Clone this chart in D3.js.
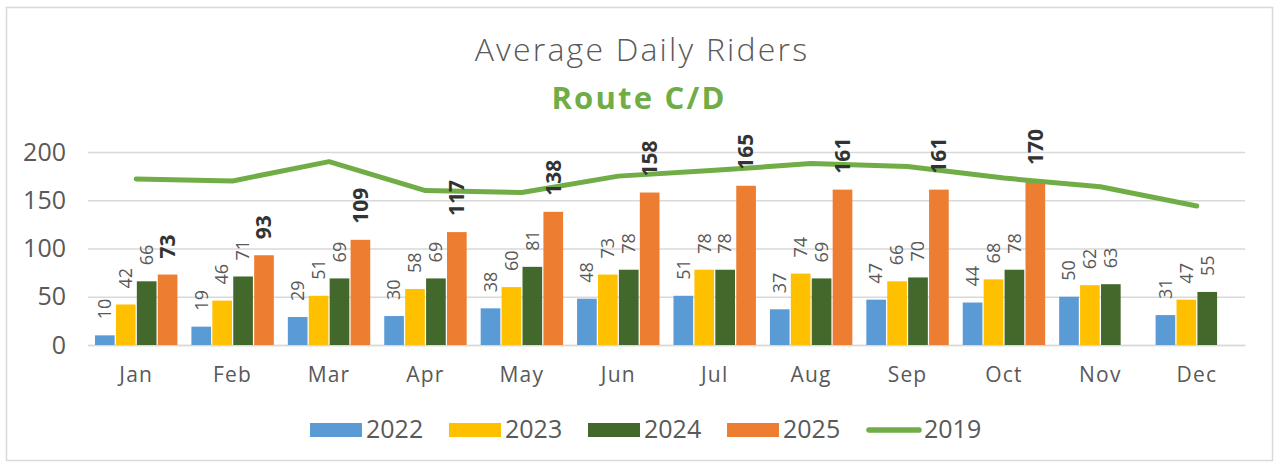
<!DOCTYPE html>
<html>
<head>
<meta charset="utf-8">
<script src="https://cdn.jsdelivr.net/npm/d3@7"></script>
<style>
  body { margin: 0; background: #fff; }
  text { font-family: "Open Sans", Lato, sans-serif; }
</style>
</head>
<body>
<div id="chart"></div>
<script>
// --------------------------------------
//  Data
// --------------------------------------

const months = ["Jan", "Feb", "Mar", "Apr", "May", "Jun", "Jul", "Aug", "Sep", "Oct", "Nov", "Dec"];
const barYears = ["2022", "2023", "2024", "2025"];
const riders2022 = [10, 19, 29, 30, 38, 48, 51, 37, 47, 44, 50, 31];
const riders2023 = [42, 46, 51, 58, 60, 73, 78, 74, 66, 68, 62, 47];
const riders2024 = [66, 71, 69, 69, 81, 78, 78, 69, 70, 78, 63, 55];
const riders2025 = [73, 93, 109, 117, 138, 158, 165, 161, 161, 170, null, null];
const riders2019 = [172, 170, 190, 160, 158, 175, 181, 188, 185, 173, 164, 144];
const yTicks = [0, 50, 100, 150, 200];
const legendKeys = ["2022", "2023", "2024", "2025", "2019"];

// --------------------------------------
//  Margin and canvas
// --------------------------------------

const width = 1276;
const height = 464;
const margin = {top: 152, right: 31, bottom: 119, left: 88};
const innerwidth = width - margin.left - margin.right;
const innerheight = height - margin.top - margin.bottom;

const svg = d3.select("#chart")
  .append("svg")
    .attr("width", width)
    .attr("height", height);

svg.append("rect")
    .attr("x", 6.5).attr("y", 7.5)
    .attr("width", 1266).attr("height", 453)
    .attr("fill", "#fff")
    .attr("stroke", "#D9D9D9")
    .attr("stroke-width", 1.5);

// titles
svg.append("text")
    .attr("x", 642).attr("y", 61)
    .attr("text-anchor", "middle")
    .attr("font-size", 32)
    .attr("font-weight", 300)
    .attr("letter-spacing", 2.2)
    .attr("fill", "#595959")
    .text("Average Daily Riders");

svg.append("text")
    .attr("x", 639).attr("y", 109)
    .attr("text-anchor", "middle")
    .attr("font-size", 31)
    .attr("font-weight", "bold")
    .attr("letter-spacing", 2.2)
    .attr("fill", "#70AD47")
    .text("Route C/D");

const innerChart = svg.append("g")
    .attr("transform", `translate(${margin.left}, ${margin.top})`);

// --------------------------------------
//  Scales
// --------------------------------------

const x = d3.scaleBand()
    .domain(months)
    .range([0, innerwidth]);

const xSub = d3.scaleBand()
    .domain(barYears)
    .range([7, x.bandwidth() - 7])
    .paddingInner(0.06);

const y = d3.scaleLinear()
    .domain([0, 200])
    .range([innerheight, 0]);

const c = d3.scaleOrdinal()
    .domain(barYears.concat(["2019"]))
    .range(["#5B9BD5", "#FFC000", "#43682B", "#ED7D31", "#70AD47"]);

// --------------------------------------
//  Axes
// --------------------------------------

const yAxis = innerChart.append("g")
    .attr("class", "y-axis")
    .call(d3.axisLeft(y)
        .tickValues(yTicks)
        .tickSize(-innerwidth)
        .tickPadding(22));

yAxis.select(".domain").remove();
yAxis.selectAll("line").attr("stroke", "#D9D9D9").attr("stroke-width", 1.5);
yAxis.selectAll("text")
    .attr("font-size", 25)
    .attr("fill", "#595959")
    .attr("font-family", "'Open Sans', sans-serif");

const xAxis = innerChart.append("g")
    .attr("class", "x-axis")
    .attr("transform", `translate(0, ${innerheight})`)
    .call(d3.axisBottom(x).tickSize(0).tickPadding(22));

xAxis.select(".domain").attr("stroke", "#D9D9D9").attr("stroke-width", 1.5);
xAxis.selectAll("text")
    .attr("font-size", 21)
    .attr("letter-spacing", 1.2)
    .attr("fill", "#595959")
    .attr("font-family", "'Open Sans', sans-serif");

// --------------------------------------
//  Data drawing
// --------------------------------------

const series = [riders2022, riders2023, riders2024, riders2025];
const bars = [];
months.forEach((m, i) => {
  barYears.forEach((yr, j) => {
    if (series[j][i] != null) bars.push({month: m, year: yr, value: series[j][i]});
  });
});

innerChart.selectAll(".bar")
    .data(bars)
    .join("rect")
    .attr("class", "bar")
    .attr("x", d => x(d.month) + xSub(d.year))
    .attr("y", d => y(d.value))
    .attr("width", xSub.bandwidth())
    .attr("height", d => innerheight - y(d.value))
    .attr("fill", d => c(d.year));

const line = d3.line()
    .x((d, i) => x(months[i]) + x.bandwidth() / 2)
    .y(d => y(d));

innerChart.append("path")
    .datum(riders2019)
    .attr("fill", "none")
    .attr("stroke", c("2019"))
    .attr("stroke-width", 5)
    .attr("stroke-linecap", "round")
    .attr("stroke-linejoin", "round")
    .attr("d", line);

innerChart.selectAll(".label")
    .data(bars)
    .join("text")
    .attr("class", "label")
    .attr("transform", d => `translate(${x(d.month) + xSub(d.year) + xSub.bandwidth() / 2}, ${y(d.value) - 16}) rotate(-90)`)
    .attr("dy", "0.35em")
    .attr("font-size", d => d.year === "2025" ? 21 : 18)
    .attr("font-weight", d => d.year === "2025" ? "bold" : "normal")
    .attr("fill", d => d.year === "2025" ? "#333333" : "#595959")
    .text(d => d.value);

// --------------------------------------
//  Legend
// --------------------------------------

const legendX = d3.scalePoint()
    .domain(legendKeys)
    .range([310, 866]);

const legend = svg.append("g").attr("class", "legend");

legend.selectAll(".swatch")
    .data(legendKeys.filter(d => d !== "2019"))
    .join("rect")
    .attr("class", "swatch")
    .attr("x", d => legendX(d))
    .attr("y", 423)
    .attr("width", 52)
    .attr("height", 14)
    .attr("fill", d => c(d));

legend.append("line")
    .attr("x1", legendX("2019") + 3).attr("x2", legendX("2019") + 53)
    .attr("y1", 430).attr("y2", 430)
    .attr("stroke", c("2019"))
    .attr("stroke-width", 5.5)
    .attr("stroke-linecap", "round");

legend.selectAll(".ltext")
    .data(legendKeys)
    .join("text")
    .attr("class", "ltext")
    .attr("x", d => legendX(d) + (d === "2019" ? 58 : 56))
    .attr("y", 438)
    .attr("font-size", 25)
    .attr("fill", "#595959")
    .text(d => d);
</script>
</body>
</html>
